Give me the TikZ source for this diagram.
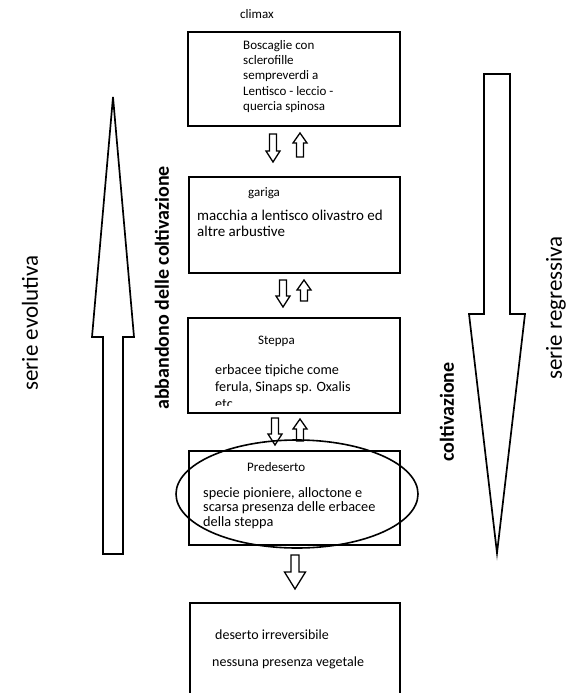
\documentclass[tikz,border=0pt]{standalone}
\usepackage{fontspec}
\setmainfont{Carlito}
\usetikzlibrary{shapes.geometric}
\begin{document}
\begin{tikzpicture}[x=1pt,y=-1pt,
  box/.style={draw, line width=2pt, inner sep=0pt},
  txt/.style={font=\fontsize{13}{15}\selectfont, inner sep=0pt, align=left, anchor=base west},
  rotreg/.style={rotate=90, inner sep=0pt, font=\fontsize{23}{26}\selectfont},
  rotbold/.style={rotate=90, inner sep=0pt, font=\fontsize{20}{24}\selectfont\bfseries},
  small/.style={line width=1.3pt},
  big/.style={line width=1.7pt},
  pics/darr/.style n args={4}{code={
    \draw[line join=miter] (-#1,0) -- (#1,0) -- (#1,#3-#4) -- (#2,#3-#4) -- (0,#3) -- (-#2,#3-#4) -- (-#1,#3-#4) -- cycle;}},
  pics/uarr/.style n args={4}{code={
    \draw[line join=miter] (0,0) -- (#2,#4) -- (#1,#4) -- (#1,#3) -- (-#1,#3) -- (-#1,#4) -- (-#2,#4) -- cycle;}}
]
\useasboundingbox (0,0) rectangle (569,693);

% boxes
\node[box, minimum width=212pt, minimum height=94pt] (b1) at (294,79) {};
\node[box, minimum width=211pt, minimum height=96pt] (b2) at (294.5,225) {};
\node[box, minimum width=212pt, minimum height=95pt] (b3) at (294,365.5) {};
\node[box, minimum width=211pt, minimum height=94pt] (b4) at (294.5,498) {};
\node[box, minimum width=210pt, minimum height=140pt] (b5) at (295,673) {};

% texts (multi-line nodes are placed by the baseline of their last line)
\node[txt] (climax) at (240,19) {climax};
\node[txt] (t1) at (243,110) {Boscaglie con\\sclerofille\\sempreverdi a\\Lentisco - leccio -\\quercia spinosa};
\node[txt] (t2a) at (248,196) {gariga};
\node[txt, font=\fontsize{15}{16}\selectfont] (t2b) at (197,236) {macchia a lentisco olivastro ed\\altre arbustive};
\node[txt] (t3a) at (258,344) {Steppa};
\begin{scope}
  \clip (190,320) rectangle (398,405);
  \node[txt, font=\fontsize{14.2}{17}\selectfont] (t3b) at (215,408) {erbacee tipiche come\\ferula, Sinaps sp. Oxalis\\etc};
\end{scope}
\node[txt] (t4a) at (247,471) {Predeserto};
\node[txt, font=\fontsize{14.3}{14.5}\selectfont] (t4b) at (203,526) {specie pioniere, alloctone e\\scarsa presenza delle erbacee\\della steppa};
\node[txt, font=\fontsize{14}{15}\selectfont] (t5a) at (215,639) {deserto irreversibile};
\node[txt, font=\fontsize{14}{15}\selectfont] (t5b) at (212,666) {nessuna presenza vegetale};

% ellipse
\node[draw, line width=1.6pt, ellipse, minimum width=242pt, minimum height=108pt, inner sep=0pt] (ell) at (297,494) {};

% small arrows between boxes
\pic[small] at (273,134) {darr={3.5}{7}{28}{11}};
\pic[small] at (300,133) {uarr={3.5}{7}{24}{10}};
\pic[small] at (283,280) {darr={3.5}{7}{27}{11}};
\pic[small] at (304,280) {uarr={3.5}{7}{21}{10}};
\pic[small] at (275,418) {darr={3.5}{7}{27}{11}};
\pic[small] at (300,419) {uarr={3.5}{7}{22}{10}};
\pic[small] at (295,555) {darr={4}{10.5}{34}{17}};

% big arrows
\pic[big] at (113,97) {uarr={10}{21}{457}{240}};
\pic[big] at (497,74) {darr={13}{28}{479}{239}};

% rotated labels
\node[rotreg] (sev) at (30,323) {serie evolutiva};
\node[rotbold] (abb) at (162,288) {abbandono delle coltivazione};
\node[rotbold] (col) at (447,412) {coltivazione};
\node[rotreg] (sreg) at (556,308) {serie regressiva};
\end{tikzpicture}
\end{document}
